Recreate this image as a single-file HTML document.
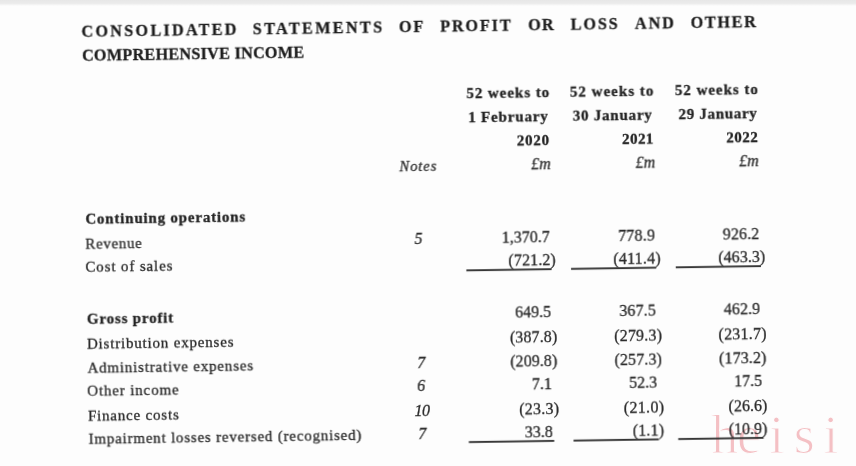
<!DOCTYPE html>
<html><head><meta charset="utf-8"><title>Consolidated statements of profit or loss and other comprehensive income</title>
<style>
html,body{margin:0;padding:0;background:#fdfdfd;}
body{width:856px;height:466px;overflow:hidden;position:relative;}
.shade{position:absolute;left:0;top:0;width:856px;height:6px;background:linear-gradient(#e7e7e7,#ebebeb 55%,#fdfdfd);}
svg{position:absolute;left:0;top:0;}
text{font-family:"Liberation Serif",serif;fill:#2a2a2a;stroke:#2a2a2a;stroke-width:0.3px;}
.tt{font-weight:bold;font-size:16.2px;fill:#1e1e1e;stroke:#1e1e1e;}
.bb{font-weight:bold;font-size:15.0px;fill:#222;stroke:#222;}
.rr{font-size:15.0px;}
.nn{font-size:16.0px;}
.no{font-style:italic;font-size:14.6px;}
.ii{font-style:italic;font-size:16.0px;}
.ul{fill:#353535;}
.wm{font-family:"Liberation Serif",serif;font-size:54px;fill:#f4c0c4;stroke:#fdfdfd;stroke-width:1.1px;}
</style></head><body>
<div class="shade"></div>
<svg width="856" height="466" viewBox="0 0 856 466">
<defs><filter id="bl" x="-5%" y="-5%" width="110%" height="110%"><feGaussianBlur stdDeviation="0.3"/></filter></defs>
<text class="wm" x="711.3 736.9 769.3 793.8 823.6" y="452.7">heisi</text>
<g transform="rotate(-0.831)" filter="url(#bl)">
<text class="tt" x="81.07" y="38.10" style="letter-spacing:2.25px">CONSOLIDATED</text>
<text class="tt" x="252.32" y="38.10" style="letter-spacing:2.35px">STATEMENTS</text>
<text class="tt" x="398.57" y="38.10" style="letter-spacing:1.81px">OF</text>
<text class="tt" x="439.82" y="38.10" style="letter-spacing:1.86px">PROFIT</text>
<text class="tt" x="527.82" y="38.10" style="letter-spacing:1.20px">OR</text>
<text class="tt" x="570.32" y="38.10" style="letter-spacing:1.84px">LOSS</text>
<text class="tt" x="634.52" y="38.10" style="letter-spacing:1.96px">AND</text>
<text class="tt" x="690.22" y="38.10" style="letter-spacing:1.71px">OTHER</text>
<text class="tt" x="81.18" y="61.80" style="letter-spacing:0.26px">COMPREHENSIVE INCOME</text>
<text class="bb" x="464.94" y="105.50" style="letter-spacing:0.96px">52 weeks to</text>
<text class="bb" x="568.54" y="105.50" style="letter-spacing:1.02px">52 weeks to</text>
<text class="bb" x="673.54" y="105.50" style="letter-spacing:0.96px">52 weeks to</text>
<text class="bb" x="466.40" y="129.10" style="letter-spacing:0.85px">1 February</text>
<text class="bb" x="570.90" y="129.10" style="letter-spacing:0.79px">30 January</text>
<text class="bb" x="676.80" y="129.10" style="letter-spacing:0.69px">29 January</text>
<text class="bb" x="514.65" y="153.00" style="letter-spacing:0.80px">2020</text>
<text class="bb" x="619.95" y="153.00" style="letter-spacing:0.47px">2021</text>
<text class="bb" x="724.35" y="153.00" style="letter-spacing:0.47px">2022</text>
<text class="ii" x="528.81" y="176.90" style="letter-spacing:0.00px">£m</text>
<text class="ii" x="633.31" y="176.90" style="letter-spacing:0.00px">£m</text>
<text class="ii" x="736.81" y="176.90" style="letter-spacing:0.00px">£m</text>
<text class="no" x="397.01" y="176.90" style="letter-spacing:0.91px">Notes</text>
<text class="bb" x="82.20" y="225.50" style="letter-spacing:0.80px">Continuing operations</text>
<text class="rr" x="81.85" y="249.80" style="letter-spacing:0.66px">Revenue</text>
<text class="rr" x="81.51" y="273.50" style="letter-spacing:0.86px">Cost of sales</text>
<text class="bb" x="82.25" y="325.50" style="letter-spacing:0.81px">Gross profit</text>
<text class="rr" x="81.90" y="350.00" style="letter-spacing:0.81px">Distribution expenses</text>
<text class="rr" x="82.15" y="374.00" style="letter-spacing:0.81px">Administrative expenses</text>
<text class="rr" x="81.51" y="397.20" style="letter-spacing:0.85px">Other income</text>
<text class="rr" x="81.95" y="422.00" style="letter-spacing:0.80px">Finance costs</text>
<text class="rr" x="82.22" y="445.30" style="letter-spacing:0.79px">Impairment losses reversed (recognised)</text>
<text class="nn" x="498.35" y="249.80" style="letter-spacing:0.00px">1,370.7</text>
<text class="nn" x="614.65" y="249.80" style="letter-spacing:0.20px">778.9</text>
<text class="nn" x="719.25" y="249.80" style="letter-spacing:0.13px">926.2</text>
<text class="nn" x="504.61" y="273.50" style="letter-spacing:0.11px">(721.2)</text>
<text class="nn" x="609.41" y="273.50" style="letter-spacing:0.23px">(411.4)</text>
<text class="nn" x="714.41" y="273.50" style="letter-spacing:0.05px">(463.3)</text>
<text class="nn" x="510.45" y="325.50" style="letter-spacing:0.00px">649.5</text>
<text class="nn" x="614.65" y="325.50" style="letter-spacing:0.15px">367.5</text>
<text class="nn" x="719.25" y="325.50" style="letter-spacing:0.08px">462.9</text>
<text class="nn" x="504.90" y="350.00" style="letter-spacing:0.13px">(387.8)</text>
<text class="nn" x="609.20" y="350.00" style="letter-spacing:0.20px">(279.3)</text>
<text class="nn" x="713.60" y="350.00" style="letter-spacing:0.21px">(231.7)</text>
<text class="nn" x="504.95" y="374.00" style="letter-spacing:0.06px">(209.8)</text>
<text class="nn" x="609.25" y="374.00" style="letter-spacing:0.13px">(257.3)</text>
<text class="nn" x="713.85" y="374.00" style="letter-spacing:0.11px">(173.2)</text>
<text class="nn" x="526.21" y="397.20" style="letter-spacing:0.00px">7.1</text>
<text class="nn" x="623.51" y="397.20" style="letter-spacing:0.00px">52.3</text>
<text class="nn" x="728.41" y="397.20" style="letter-spacing:0.00px">17.5</text>
<text class="nn" x="513.15" y="422.00" style="letter-spacing:0.25px">(23.3)</text>
<text class="nn" x="617.85" y="422.00" style="letter-spacing:0.31px">(21.0)</text>
<text class="nn" x="722.55" y="422.00" style="letter-spacing:0.01px">(26.6)</text>
<text class="nn" x="518.52" y="445.30" style="letter-spacing:0.00px">33.8</text>
<text class="nn" x="626.52" y="445.30" style="letter-spacing:0.14px">(1.1)</text>
<text class="nn" x="722.52" y="445.30" style="letter-spacing:0.00px">(10.9)</text>
<text class="ii" x="411.05" y="249.80" style="letter-spacing:0.00px">5</text>
<text class="ii" x="411.95" y="374.00" style="letter-spacing:0.00px">7</text>
<text class="ii" x="411.51" y="397.20" style="letter-spacing:0.00px">6</text>
<text class="ii" x="408.55" y="422.00" style="letter-spacing:-0.50px">10</text>
<text class="ii" x="412.02" y="445.30" style="letter-spacing:0.00px">7</text>
<rect class="ul" x="462.4" y="276.2" width="85.2" height="1.9"/>
<rect class="ul" x="567.1" y="276.2" width="85.2" height="1.9"/>
<rect class="ul" x="671.8" y="276.2" width="85.2" height="1.9"/>
<rect class="ul" x="462.4" y="447.9" width="85.4" height="1.9"/>
<rect class="ul" x="567.1" y="447.9" width="85.4" height="1.9"/>
<rect class="ul" x="671.8" y="447.9" width="85.4" height="1.9"/>
</g>
</svg>
</body></html>
